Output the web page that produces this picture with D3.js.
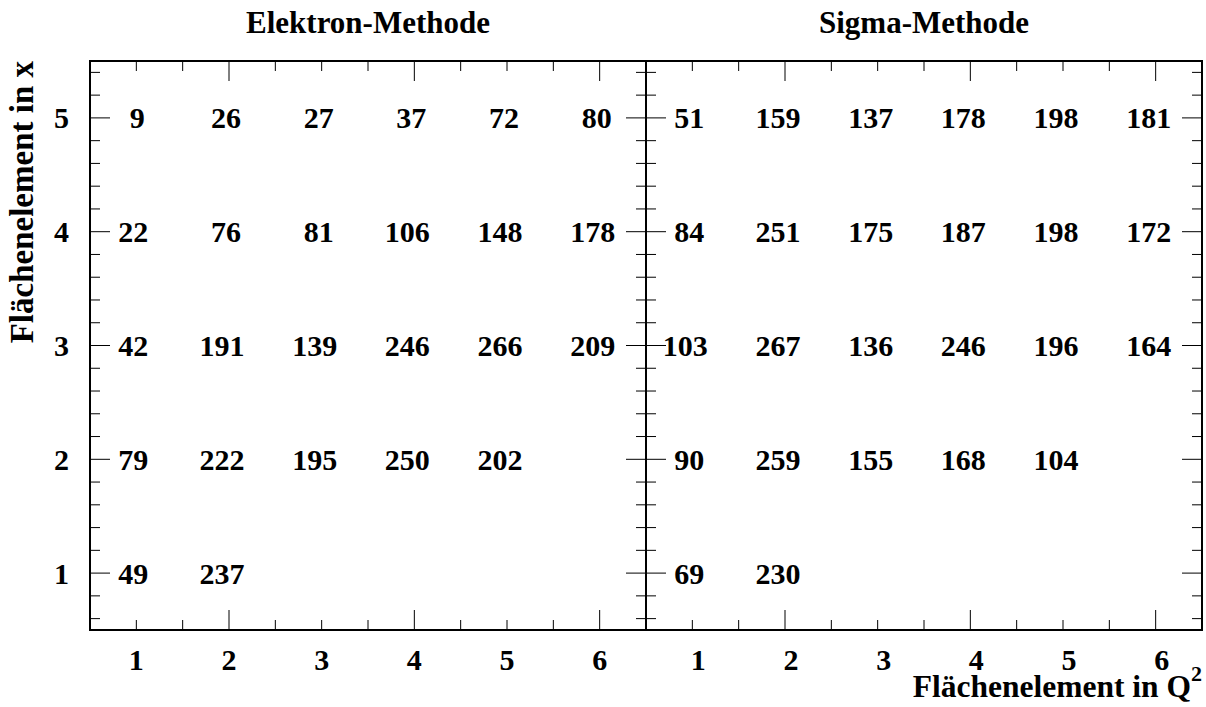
<!DOCTYPE html>
<html>
<head>
<meta charset="utf-8">
<script src="https://cdn.jsdelivr.net/npm/d3@7"></script>
<style>
  html, body { margin: 0; padding: 0; background: #fff; }
  svg { display: block; }
  text { font-family: "Liberation Serif", "Times New Roman", serif; font-weight: bold; fill: #000; }
</style>
</head>
<body>
<svg id="chart" width="1206" height="707"></svg>
<script>
// ---- data ----
const xCategories = [1, 2, 3, 4, 5, 6];      // Flächenelement in Q^2
const yCategories = [1, 2, 3, 4, 5];         // Flächenelement in x
const xTickLabels = ["1", "2", "3", "4", "5", "6"];
const yTickLabels = ["1", "2", "3", "4", "5"];
const panelTitles = ["Elektron-Methode", "Sigma-Methode"];

// Elektron-Methode, rows by x bin (values per Q^2 bin 1..6, null = empty)
const elektronRow1 = [49, 237, null, null, null, null];
const elektronRow2 = [79, 222, 195, 250, 202, null];
const elektronRow3 = [42, 191, 139, 246, 266, 209];
const elektronRow4 = [22, 76, 81, 106, 148, 178];
const elektronRow5 = [9, 26, 27, 37, 72, 80];

// Sigma-Methode
const sigmaRow1 = [69, 230, null, null, null, null];
const sigmaRow2 = [90, 259, 155, 168, 104, null];
const sigmaRow3 = [103, 267, 136, 246, 196, 164];
const sigmaRow4 = [84, 251, 175, 187, 198, 172];
const sigmaRow5 = [51, 159, 137, 178, 198, 181];

const elektronRows = [elektronRow1, elektronRow2, elektronRow3, elektronRow4, elektronRow5];
const sigmaRows = [sigmaRow1, sigmaRow2, sigmaRow3, sigmaRow4, sigmaRow5];

// ---- layout ----
const svg = d3.select("#chart");
const plotTop = 61, plotBottom = 630;
const panels = [
  { x0: 90, x1: 646, rows: elektronRows, title: panelTitles[0], yLabels: true, labelDx: 0 },
  { x0: 646, x1: 1202, rows: sigmaRows, title: panelTitles[1], yLabels: false, labelDx: 6 }
];
const fs = 30;

const y = d3.scaleLinear().domain([0.5, 5.5]).range([plotBottom, plotTop]);

const xMinor = d3.range(1, 6.01, 0.5);
const yMinor = d3.range(0.6, 5.41, 0.2).map(v => Math.round(v * 10) / 10);

panels.forEach(p => {
  const x = d3.scaleLinear().domain([0.5, 6.5]).range([p.x0, p.x1]);
  const g = svg.append("g");

  // x ticks (top & bottom), major at even numbers
  xMinor.forEach(v => {
    const major = Math.abs(v % 2) < 1e-6;
    const len = major ? 20 : 10;
    g.append("line").attr("x1", x(v)).attr("x2", x(v)).attr("y1", plotBottom).attr("y2", plotBottom - len)
      .attr("stroke", "#000").attr("stroke-width", 1);
    g.append("line").attr("x1", x(v)).attr("x2", x(v)).attr("y1", plotTop).attr("y2", plotTop + len)
      .attr("stroke", "#000").attr("stroke-width", 1);
  });

  // y ticks (left & right)
  yMinor.forEach(v => {
    const major = Math.abs(v - Math.round(v)) < 1e-6;
    const len = major ? 20 : 10;
    g.append("line").attr("x1", p.x0).attr("x2", p.x0 + len).attr("y1", y(v)).attr("y2", y(v))
      .attr("stroke", "#000").attr("stroke-width", 1);
    g.append("line").attr("x1", p.x1).attr("x2", p.x1 - len).attr("y1", y(v)).attr("y2", y(v))
      .attr("stroke", "#000").attr("stroke-width", 1);
  });

  // frame
  g.append("rect").attr("x", p.x0).attr("y", plotTop).attr("width", p.x1 - p.x0).attr("height", plotBottom - plotTop)
    .attr("fill", "none").attr("stroke", "#000").attr("stroke-width", 2);

  // x tick labels
  g.selectAll("text.xl").data(xCategories).enter().append("text")
    .attr("x", d => x(d) + p.labelDx).attr("y", 670)
    .attr("text-anchor", "middle").attr("font-size", fs)
    .text((d, i) => xTickLabels[i]);

  // y tick labels
  if (p.yLabels) {
    g.selectAll("text.yl").data(yCategories).enter().append("text")
      .attr("x", 69).attr("y", d => y(d) + 10.5)
      .attr("text-anchor", "end").attr("font-size", fs)
      .text((d, i) => yTickLabels[i]);
  }

  // cell values
  const cells = [];
  p.rows.forEach((row, ri) => row.forEach((v, ci) => {
    if (v !== null) cells.push({ xv: xCategories[ci], yv: yCategories[ri], v });
  }));
  g.selectAll("text.cell").data(cells).enter().append("text")
    .attr("x", d => x(d.xv) + 1 - 4 * (String(d.v).length - 1))
    .attr("y", d => y(d.yv) + 10.5)
    .attr("text-anchor", "middle").attr("font-size", fs)
    .text(d => d.v);

  // title
  g.append("text").attr("x", (p.x0 + p.x1) / 2).attr("y", 33)
    .attr("text-anchor", "middle").attr("font-size", 31).text(p.title);
});

// axis titles
svg.append("text").attr("transform", "translate(33," + plotTop + ") rotate(-90)")
  .attr("text-anchor", "end").attr("font-size", 33).text("Flächenelement in x");

const xt = svg.append("text").attr("x", 1202).attr("y", 697)
  .attr("text-anchor", "end").attr("font-size", 31.5);
xt.append("tspan").text("Flächenelement in Q");
xt.append("tspan").attr("dy", -16).attr("font-size", 22).text("2");
</script>
</body>
</html>
